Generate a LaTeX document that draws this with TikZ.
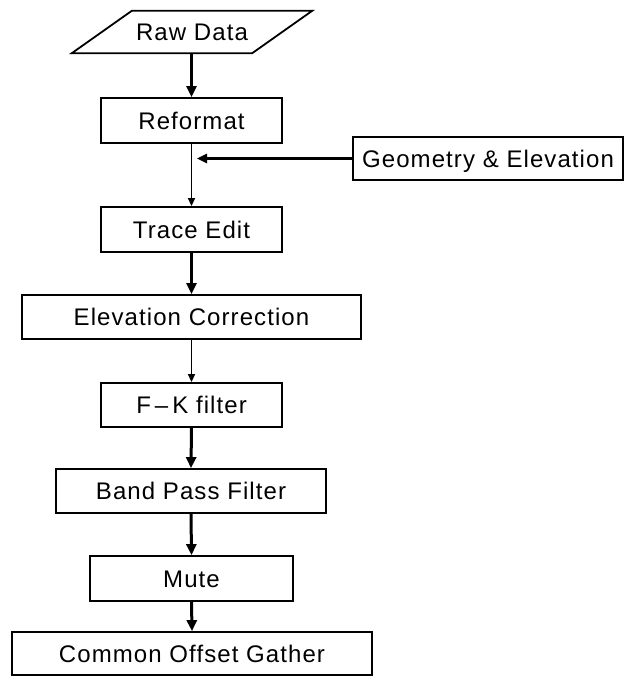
\documentclass[tikz,border=0pt]{standalone}
\usepackage{fontspec}
\setmainfont{Liberation Sans}[LetterSpace=4.5]
\usetikzlibrary{arrows.meta}
\begin{document}
\begin{tikzpicture}[x=1pt,y=-1pt,
  box/.style={draw, line width=1.8pt, minimum height=45pt, inner sep=0pt,
    text height=17pt, text depth=0pt, font=\fontsize{24}{28}\selectfont},
  plain/.style={inner sep=0pt, minimum width=180pt, minimum height=42pt,
    text height=17pt, text depth=0pt, font=\fontsize{24}{28}\selectfont},
  thickarrow/.style={line width=3pt, -{Triangle[length=11pt,width=10pt]}},
  thinarrow/.style={line width=1.5pt, -{Triangle[length=8pt,width=7pt]}},
  sidearrow/.style={line width=2.4pt, -{Triangle[length=10pt,width=9pt]}}]
\useasboundingbox (0,0) rectangle (626,677);
% Raw data parallelogram
\node[plain] (raw) at (192,32) {Raw Data};
\draw[line width=1.8pt, line join=miter]
  ([xshift=30pt]raw.north west) -- ([xshift=30pt]raw.north east)
  -- ([xshift=-30pt]raw.south east) -- ([xshift=-30pt]raw.south west) -- cycle;
\node[box, minimum width=181pt] (ref) at (191.5,120.5) {Reformat};
\node[box, minimum width=181pt] (trace) at (191.5,229.5) {Trace Edit};
\node[box, minimum width=270pt, minimum height=43pt] (geo) at (488,158.5) {Geometry \& Elevation};
\node[box, minimum width=339pt, minimum height=44pt] (elev) at (191.5,317) {Elevation Correction};
\node[box, minimum width=181pt, minimum height=44pt] (fk) at (191.5,405) {F\,--\,K filter};
\node[box, minimum width=270pt, minimum height=44pt] (band) at (191,491) {Band Pass Filter};
\node[box, minimum width=203pt] (mute) at (191.5,578.5) {Mute};
\node[box, minimum width=360pt, minimum height=43pt] (cog) at (192,653.5) {Common Offset Gather};
\coordinate (gtip) at (197,158.5);
% connectors
\draw[thickarrow] (raw.south -| ref.north) -- (ref.north);
\draw[thinarrow] (ref.south) -- (trace.north);
\draw[sidearrow] (geo.west) -- (gtip);
\draw[thickarrow] (trace.south) -- (elev.north);
\draw[thinarrow] (elev.south) -- (fk.north);
\draw[thickarrow] (fk.south) -- (band.north);
\draw[thickarrow] (band.south) -- (mute.north);
\draw[thickarrow] (mute.south) -- (cog.north);
\end{tikzpicture}
\end{document}
